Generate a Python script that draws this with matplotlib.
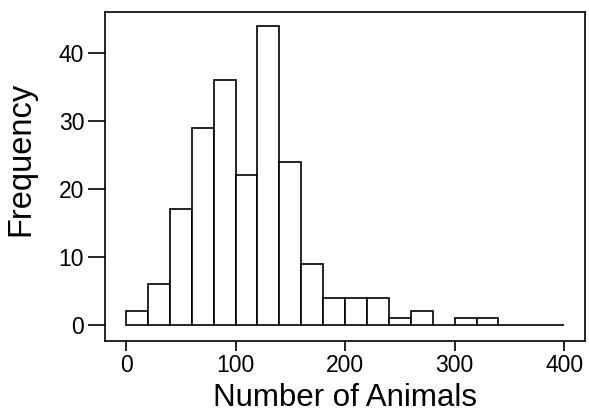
import matplotlib.pyplot as plt
import numpy as np

plt.rcParams['font.family'] = ['Liberation Sans', 'DejaVu Sans']

# histogram of animal counts, bins of width 20
bin_edges = list(range(0, 420, 20))
counts = [2, 6, 17, 29, 36, 22, 44, 24, 9, 4, 4, 4, 1, 2, 0, 1, 1, 0, 0, 0]
y_ticks = [0, 10, 20, 30, 40]
x_ticks = [0, 100, 200, 300, 400]

fig = plt.figure(figsize=(5.89, 4.12), dpi=100)
ax = fig.add_axes([105 / 589, 1 - 341 / 412, 480 / 589, 329 / 412])

lefts = np.array(bin_edges[:-1])
widths = np.diff(bin_edges)
ax.bar(lefts, counts, width=widths, align='edge', facecolor='white',
       edgecolor='black', linewidth=1.2)

ax.set_xlim(-19.2, 419)
ax.set_ylim(-2.35, 46.0)
ax.set_xticks(x_ticks)
ax.set_yticks(y_ticks)
ax.tick_params(axis='both', direction='out', width=1.2,
               labelsize=16.5, color='black')
ax.tick_params(axis='y', length=12, pad=3)
ax.tick_params(axis='x', length=7.5, pad=2)
for sp in ax.spines.values():
    sp.set_linewidth(1.2)

ax.set_xlabel('Number of Animals', fontsize=22.5)
ax.set_ylabel('Frequency', fontsize=23.5)
ax.xaxis.set_label_coords(0.5, -0.128)
ax.yaxis.set_label_coords(-0.142, 0.553)

fig.savefig('out.png', dpi=100)
